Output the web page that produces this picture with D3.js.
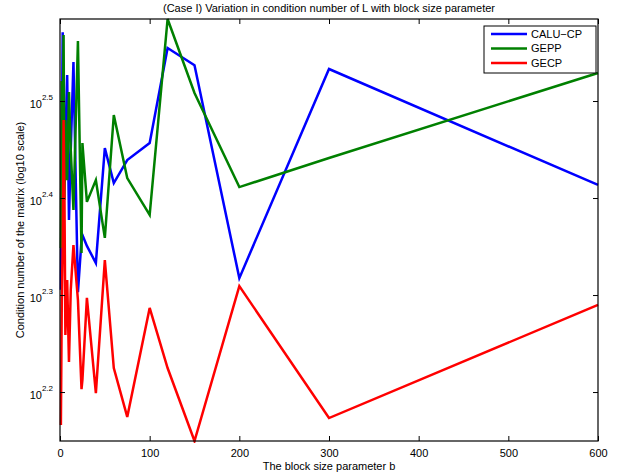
<!DOCTYPE html>
<html>
<head>
<meta charset="utf-8">
<script src="https://cdn.jsdelivr.net/npm/d3@7"></script>
<style>
  html, body { margin: 0; padding: 0; background: #fff; }
  svg { display: block; font-family: "Liberation Sans", Arial, Helvetica, sans-serif; }
</style>
</head>
<body>
<svg id="chart" width="618" height="475"></svg>
<script>
// Block sizes b (divisors of n = 600)
const blockSizes = [1, 2, 3, 4, 5, 6, 8, 10, 12, 15, 20, 24, 25, 30, 40, 50, 60, 75, 100, 120, 150, 200, 300, 600];

// Condition number of L for each pivoting strategy
const caluCp = [202.0, 281.5, 372.4, 250.0, 274.9, 288.3, 336.3, 238.4, 281.5, 346.9, 200.9, 227.4, 230.1, 224.2, 215.3, 282.8, 260.3, 274.9, 286.2, 358.6, 344.3, 207.7, 341.2, 259.1];
const gepp   = [223.1, 331.6, 281.5, 369.8, 250.0, 302.3, 262.1, 323.1, 281.5, 244.2, 364.7, 220.5, 286.2, 248.9, 262.1, 228.5, 305.9, 263.4, 241.3, 384.2, 322.3, 257.8, 276.2, 338.0];
const gecp   = [146.6, 197.2, 224.7, 302.3, 250.0, 181.5, 206.8, 170.2, 202.0, 224.7, 197.2, 159.6, 163.1, 198.2, 158.1, 216.8, 167.8, 149.4, 193.5, 167.8, 141.1, 203.8, 149.0, 194.9];

const seriesNames = ["CALU\u2212CP", "GEPP", "GECP"];
const seriesColors = ["#0000ff", "#008000", "#ff0000"];
const seriesValues = [caluCp, gepp, gecp];

const xTicks = [0, 100, 200, 300, 400, 500, 600];
const yTickExponents = [2.2, 2.3, 2.4, 2.5];

const titleText = "(Case I) Variation in condition number of L with block size parameter";
const xLabelText = "The block size parameter b";
const yLabelText = "Condition number of the matrix (log10 scale)";

const W = 618, H = 475;
const margin = { top: 19, right: 20, bottom: 34, left: 60 };
const iw = W - margin.left - margin.right;
const ih = H - margin.top - margin.bottom;

const svg = d3.select("#chart");
const g = svg.append("g").attr("transform", `translate(${margin.left},${margin.top})`);

const x = d3.scaleLinear().domain([0, 600]).range([0, iw]);
const allVals = seriesValues.flat();
const y = d3.scaleLog().domain(d3.extent(allVals)).range([ih, 0]);

// clip for lines
svg.append("defs").append("clipPath").attr("id", "plotClip")
  .append("rect").attr("x", -2).attr("y", -2).attr("width", iw + 4).attr("height", ih + 4);

// series lines
const line = d3.line().x((d, i) => x(blockSizes[i])).y(d => y(d));
const lines = g.append("g").attr("clip-path", "url(#plotClip)");
seriesValues.forEach((vals, k) => {
  lines.append("path")
    .datum(vals)
    .attr("fill", "none")
    .attr("stroke", seriesColors[k])
    .attr("stroke-width", 2.5)
    .attr("stroke-linejoin", "miter")
    .attr("d", line);
});

// axes (ticks point inward)
const tickLen = 5;
const fontSize = 11;

const bottomAxis = g.append("g").attr("transform", `translate(0,${ih})`)
  .call(d3.axisBottom(x).tickValues(xTicks).tickSizeInner(-tickLen).tickSizeOuter(0).tickPadding(8).tickFormat(d3.format("d")));
const topAxis = g.append("g")
  .call(d3.axisTop(x).tickValues(xTicks).tickSizeInner(-tickLen).tickSizeOuter(0).tickFormat(""));
const yTickVals = yTickExponents.map(e => Math.pow(10, e));
const leftAxis = g.append("g")
  .call(d3.axisLeft(y).tickValues(yTickVals).tickSizeInner(-tickLen).tickSizeOuter(0).tickPadding(6).tickFormat(""));
const rightAxis = g.append("g").attr("transform", `translate(${iw},0)`)
  .call(d3.axisRight(y).tickValues(yTickVals).tickSizeInner(-tickLen).tickSizeOuter(0).tickFormat(""));

[bottomAxis, topAxis, leftAxis, rightAxis].forEach(a => {
  a.select(".domain").remove();
  a.selectAll(".tick line").attr("stroke", "#000").attr("stroke-width", 1);
  a.selectAll("text").attr("font-size", fontSize).attr("fill", "#000").attr("font-family", "Liberation Sans, Arial, sans-serif");
});

// y tick labels as 10^e
leftAxis.selectAll(".tick").each(function(d, i) {
  const t = d3.select(this).select("text");
  t.text(null).attr("dy", null).attr("x", -7).attr("y", 0).attr("text-anchor", "end");
  t.append("tspan").attr("dy", "0.55em").text("10");
  t.append("tspan").attr("font-size", 8).attr("dy", "-0.95em").text(String(yTickExponents[i]));
});

// frame
g.append("rect").attr("x", 0).attr("y", 0).attr("width", iw).attr("height", ih)
  .attr("fill", "none").attr("stroke", "#000").attr("stroke-width", 1.2);

// title and axis labels
svg.append("text").attr("x", margin.left + iw / 2).attr("y", 12)
  .attr("text-anchor", "middle").attr("font-size", 11).attr("fill", "#000").text(titleText);
svg.append("text").attr("x", margin.left + iw / 2).attr("y", 470)
  .attr("text-anchor", "middle").attr("font-size", 11).attr("fill", "#000").text(xLabelText);
svg.append("text")
  .attr("transform", `translate(24,${margin.top + ih / 2}) rotate(-90)`)
  .attr("text-anchor", "middle").attr("font-size", 11).attr("fill", "#000").text(yLabelText);

// legend
const lg = svg.append("g").attr("transform", "translate(484,26)");
lg.append("rect").attr("x", 0).attr("y", 0).attr("width", 112).attr("height", 47)
  .attr("fill", "#fff").attr("stroke", "#000").attr("stroke-width", 1);
seriesNames.forEach((name, k) => {
  const yy = 8 + k * 14.5;
  lg.append("line").attr("x1", 7).attr("x2", 43).attr("y1", yy).attr("y2", yy)
    .attr("stroke", seriesColors[k]).attr("stroke-width", 2.5);
  lg.append("text").attr("x", 47).attr("y", yy).attr("dy", "0.35em")
    .attr("font-size", 11).attr("fill", "#000").text(name);
});
</script>
</body>
</html>
